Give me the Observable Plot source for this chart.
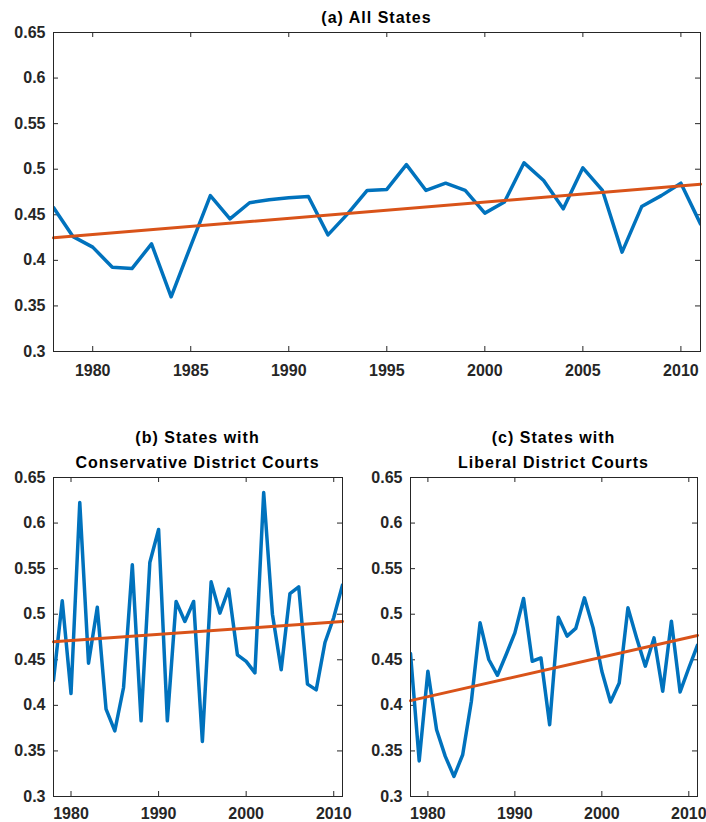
<!DOCTYPE html>
<html><head><meta charset="utf-8">
<script src="https://cdn.jsdelivr.net/npm/d3@7"></script>
<script src="https://cdn.jsdelivr.net/npm/@observablehq/plot@0.6"></script>
<style>
body{margin:0;background:#fff;}
#root{position:relative;width:706px;height:822px;font-family:"Liberation Sans",Arial,sans-serif;overflow:hidden;}
.title{position:absolute;text-align:center;font-weight:bold;font-size:16px;letter-spacing:1px;color:#000;line-height:25px;white-space:nowrap;}
.panel{position:absolute;}
</style></head><body><div id="root"></div>
<script>
const years = [1978,1979,1980,1981,1982,1983,1984,1985,1986,1987,1988,1989,1990,1991,1992,1993,1994,1995,1996,1997,1998,1999,2000,2001,2002,2003,2004,2005,2006,2007,2008,2009,2010,2011];
const allStates = [0.458,0.426,0.4145,0.3925,0.391,0.418,0.360,0.416,0.471,0.4456,0.4632,0.4664,0.4686,0.470,0.428,0.451,0.4767,0.4778,0.505,0.4767,0.4847,0.4767,0.4518,0.464,0.507,0.4876,0.4565,0.5015,0.4767,0.409,0.459,0.471,0.4847,0.440];
const conservative = [0.4276,0.5147,0.413,0.6226,0.4463,0.5077,0.3958,0.372,0.4196,0.5542,0.383,0.5567,0.593,0.383,0.514,0.492,0.514,0.3604,0.5355,0.5012,0.5275,0.4555,0.4482,0.4357,0.6335,0.500,0.439,0.5227,0.530,0.4233,0.417,0.469,0.4964,0.532];
const liberal = [0.4569,0.339,0.4374,0.3733,0.344,0.322,0.3458,0.4045,0.4906,0.4503,0.433,0.4558,0.4796,0.5173,0.4484,0.452,0.3788,0.4968,0.476,0.4844,0.518,0.485,0.4374,0.4037,0.4246,0.507,0.474,0.443,0.474,0.4155,0.4924,0.4147,0.441,0.466];
const trendYears = [1978, 2011];
const trendAll = [0.4247, 0.4836];
const trendCons = [0.4697, 0.492];
const trendLib = [0.4052, 0.4767];
const yTicks = [0.3,0.35,0.4,0.45,0.5,0.55,0.6,0.65];
const xTicksA = [1980,1985,1990,1995,2000,2005,2010];
const xTicksBC = [1980,1990,2000,2010];
const titles = {
  a: ["(a) All States"],
  b: ["(b) States with", "Conservative District Courts"],
  c: ["(c) States with", "Liberal District Courts"]
};

const FONT = '"Liberation Sans", Arial, sans-serif';
const AX = "#262626";

function panel({values, trend, xTicks, width, height, ml, mr, mt, mb, xPad}) {
  const data = years.map((y, i) => ({year: y, v: values[i]}));
  const tr = trendYears.map((y, i) => ({year: y, v: trend[i]}));
  const ih = height - mt - mb, iw = width - ml - mr;
  return Plot.plot({
    width, height, marginLeft: ml, marginRight: mr, marginTop: mt, marginBottom: mb,
    style: {fontFamily: FONT, fontSize: "16px", fontWeight: "bold", color: AX, background: "transparent", overflow: "visible"},
    x: {domain: [1978, 2011]},
    y: {domain: [0.3, 0.65]},
    marks: [
      Plot.axisX(xTicks, {tickSize: 0, tickPadding: xPad, tickFormat: "d", label: null, fontSize: 16, fontWeight: "bold"}),
      Plot.axisY(yTicks, {tickSize: 0, tickPadding: 8, tickFormat: d => String(+d.toFixed(2)), label: null, fontSize: 16, fontWeight: "bold"}),
      Plot.ruleX(xTicks, {stroke: AX, insetTop: ih - 5}),
      Plot.ruleX(xTicks, {stroke: AX, insetBottom: ih - 5}),
      Plot.ruleY(yTicks, {stroke: AX, insetRight: iw - 5}),
      Plot.ruleY(yTicks, {stroke: AX, insetLeft: iw - 5}),
      Plot.line(data, {x: "year", y: "v", stroke: "#0072BD", strokeWidth: 3.5, clip: true}),
      Plot.line(tr, {x: "year", y: "v", stroke: "#D95319", strokeWidth: 3}),
      Plot.frame({stroke: AX})
    ]
  });
}

const root = document.getElementById("root");
function place(el, left, top) {
  const d = document.createElement("div");
  d.className = "panel";
  d.style.left = left + "px"; d.style.top = top + "px";
  d.appendChild(el); root.appendChild(d);
}
function title(lines, left, width, top) {
  const d = document.createElement("div");
  d.className = "title";
  d.style.left = left + "px"; d.style.width = width + "px"; d.style.top = top + "px";
  d.innerHTML = lines.map(s => `<div>${s}</div>`).join("");
  root.appendChild(d);
}

place(panel({values: allStates, trend: trendAll, xTicks: xTicksA, width: 706, height: 390, ml: 53, mr: 6, mt: 32, mb: 39, xPad: 13}), 0, 0);
place(panel({values: conservative, trend: trendCons, xTicks: xTicksBC, width: 350, height: 422, ml: 53, mr: 8, mt: 77, mb: 26, xPad: 11}), 0, 400);
place(panel({values: liberal, trend: trendLib, xTicks: xTicksBC, width: 350, height: 422, ml: 54, mr: 9, mt: 77, mb: 26, xPad: 11}), 356, 400);

title(titles.a, 53, 647, 5);
title(titles.b, 53, 289, 425);
title(titles.c, 410, 287, 425);
</script>
</body></html>
